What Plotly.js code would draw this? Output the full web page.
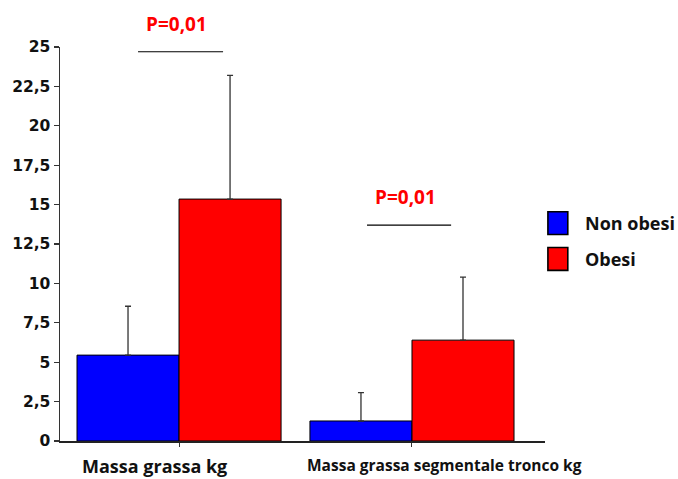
<!DOCTYPE html>
<html>
<head>
<meta charset="utf-8">
<script src="https://cdn.plot.ly/plotly-3.0.1.min.js"></script>
<style>
  html, body { margin: 0; padding: 0; background: #fff; }
  #chart { width: 678px; height: 479px; }
</style>
</head>
<body>
<div id="chart"></div>
<script>
// Fat-mass measurements, mean and standard deviation per group
const categories = ['Massa grassa kg', 'Massa grassa segmentale tronco kg'];
const seriesNames = ['Non obesi', 'Obesi'];
const nonObesiMean = [5.45, 1.27];
const nonObesiSD = [3.1, 1.8];
const obesiMean = [15.35, 6.4];
const obesiSD = [7.85, 4.0];
const pValues = ['P=0,01', 'P=0,01'];
const yTicks = [0, 2.5, 5, 7.5, 10, 12.5, 15, 17.5, 20, 22.5, 25];

const colors = ['#0000ff', '#ff0000'];
const sans = 'Open Sans, DejaVu Sans, sans-serif';

function barTrace(name, y, sd, color) {
  return {
    type: 'bar',
    name: name,
    x: [0, 1],
    y: y,
    marker: { color: color, line: { color: '#000', width: 1 } },
    error_y: {
      type: 'data', symmetric: false, array: sd, arrayminus: [0, 0],
      color: '#333', thickness: 1.3, width: 3
    },
    showlegend: false
  };
}

const data = [
  barTrace(seriesNames[0], nonObesiMean, nonObesiSD, colors[0]),
  barTrace(seriesNames[1], obesiMean, obesiSD, colors[1])
];

// Significance markers: text and bar above each group
const sigY = [obesiMean[0] + obesiSD[0] + 1.5, obesiMean[1] + obesiSD[1] + 3.3];
const sigSpan = [[-0.176, 0.189], [-0.193, 0.168]];
const catLabelSize = [18, 15.5];
const catLabelShift = [-25, 33];

const annotations = [];
const shapes = [];

categories.forEach((c, i) => {
  annotations.push({
    x: i, y: 0, xref: 'x', yref: 'y', text: c, showarrow: false,
    yanchor: 'top', yshift: -11, xshift: catLabelShift[i],
    font: { family: sans, size: catLabelSize[i], color: '#111', weight: 700 }
  });
  shapes.push({
    type: 'line', xref: 'x', yref: 'y',
    x0: i + sigSpan[i][0], x1: i + sigSpan[i][1], y0: sigY[i], y1: sigY[i],
    line: { color: '#000', width: 1.2 }
  });
  annotations.push({
    x: i + (sigSpan[i][0] + sigSpan[i][1]) / 2, y: sigY[i], xref: 'x', yref: 'y',
    text: pValues[i], showarrow: false, yanchor: 'bottom', yshift: 13, xshift: -4,
    font: { family: sans, size: 19, color: '#ff0000', weight: 700 }
  });
});

// Legend drawn as boxed swatches with labels
seriesNames.forEach((n, i) => {
  const yc = 0.553 - i * 0.091;
  shapes.push({
    type: 'rect', xref: 'paper', yref: 'paper',
    x0: 1.006, x1: 1.047, y0: yc - 0.029, y1: yc + 0.029,
    fillcolor: colors[i], line: { color: '#000', width: 1.6 }
  });
  annotations.push({
    x: 1.078, y: yc, xref: 'paper', yref: 'paper', text: n, showarrow: false,
    xanchor: 'left', yanchor: 'middle',
    font: { family: sans, size: 18, color: '#111', weight: 700 }
  });
});

const layout = {
  width: 678, height: 479,
  margin: { l: 60, r: 133, t: 47, b: 38 },
  paper_bgcolor: '#fff', plot_bgcolor: '#fff',
  separators: ',.',
  barmode: 'group', bargap: 0.124, bargroupgap: 0,
  showlegend: false,
  xaxis: {
    range: [-0.511, 1.571], showgrid: false, zeroline: false,
    tickvals: [0, 1], ticktext: ['', ''],
    ticks: 'outside', ticklen: 4, tickcolor: '#333', tickwidth: 1,
    showline: true, linecolor: '#222', linewidth: 1.5
  },
  yaxis: {
    range: [0, 25], tickvals: yTicks, showgrid: false, zeroline: false,
    ticks: 'outside', ticklen: 5, tickcolor: '#333', tickwidth: 1.3,
    showline: true, linecolor: '#333', linewidth: 1.5,
    tickfont: { family: 'DejaVu Sans', size: 15.5, color: '#111', weight: 700 },
    ticklabelstandoff: 0
  },
  shapes: shapes,
  annotations: annotations
};

Plotly.newPlot('chart', data, layout, { displayModeBar: false, staticPlot: true });
</script>
</body>
</html>
